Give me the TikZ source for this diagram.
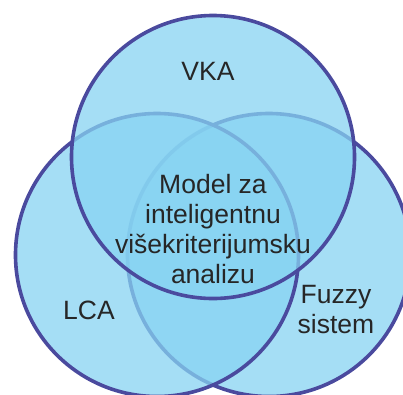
\documentclass[tikz,border=0pt]{standalone}
\usepackage{fontspec}
\setmainfont{Liberation Sans}
\definecolor{ringblue}{RGB}{74,74,158}
\definecolor{skyfill}{RGB}{135,211,242}
\definecolor{labelgray}{RGB}{38,38,38}
\begin{document}
\begin{tikzpicture}[x=1pt, y=-1pt,
  set/.style={shape=circle, draw=ringblue, line width=3.6pt, fill=skyfill, fill opacity=0.75, minimum size=283pt, inner sep=0pt},
  lbl/.style={text=labelgray, align=center, inner sep=0pt, font=\fontsize{26.5}{30}\selectfont}]
\useasboundingbox (0,0) rectangle (403,394);
\node[set] (Fuzzy) at (269,255) {};
\node[set] (LCA) at (157,255) {};
\node[set] (VKA) at (213,157) {};
\node[lbl] (tVKA) at (208,71) {VKA};
\node[lbl] (tLCA) at (89,310) {LCA};
\node[lbl] (tFuzzy) at (336,310) {Fuzzy\\sistem};
\node[lbl] (tModel) at (213,229) {Model za\\inteligentnu\\višekriterijumsku\\analizu};
\end{tikzpicture}
\end{document}
